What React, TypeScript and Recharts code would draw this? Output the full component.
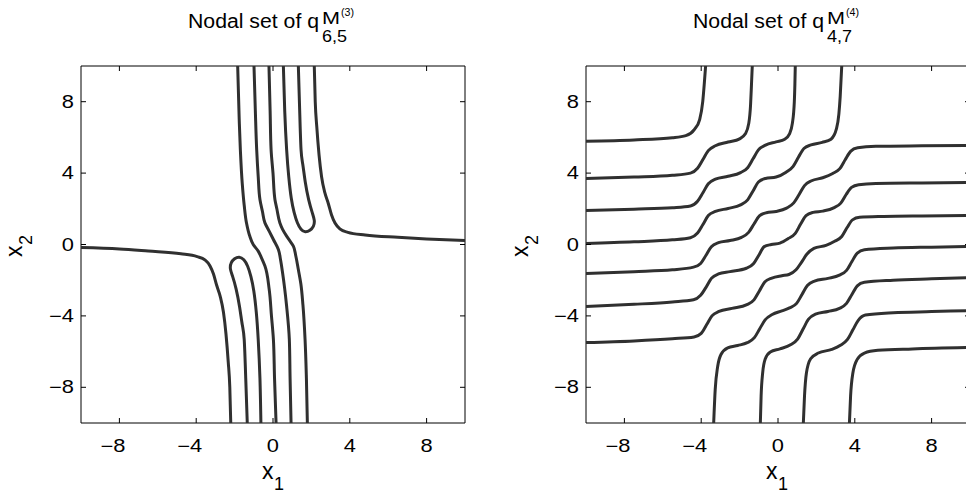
import React from 'react'
import { LineChart, Line, XAxis, YAxis, ReferenceArea } from 'recharts'

type P = [number, number]

const AXIS_TICKS = [-8, -4, 0, 4, 8]
const TICK_LABELS: Record<number, string> = { '-8': '−8', '-4': '−4', 0: '0', 4: '4', 8: '8' }

// ---- left panel: nodal set of q^{M(3)}_{6,5} ----
const hypUpper: P[] = [[2.15,10],[2.2,8],[2.28,6.6],[2.4,5],[2.53,3.8],[2.7,2.9],[2.88,2.3],[3.05,1.65],[3.23,1.2],[3.5,0.86],[3.9,0.68],[4.8,0.53],[6.5,0.4],[8,0.31],[10,0.22]]
const hypLower: P[] = [[-10,-0.17],[-8,-0.25],[-6.5,-0.37],[-4.8,-0.52],[-3.95,-0.68],[-3.55,-0.86],[-3.28,-1.2],[-3.1,-1.65],[-2.93,-2.3],[-2.75,-2.9],[-2.58,-3.8],[-2.45,-5],[-2.33,-6.6],[-2.25,-8],[-2.2,-10]]
const mid1: P[] = [[0.16,-10],[0.08,-7.5],[0.02,-5.3],[-0.08,-4],[-0.2,-2.5],[-0.42,-1.21],[-0.6,-0.75],[-0.77,-0.37],[-1.03,0],[-1.22,0.5],[-1.38,1.2],[-1.5,2.2],[-1.6,3.4],[-1.7,5.3],[-1.76,7],[-1.84,10]]
const mid2: P[] = [[0.94,-10],[0.89,-7.5],[0.85,-5.3],[0.71,-3.46],[0.6,-2.4],[0.5,-1.6],[0.4,-0.9],[0.28,-0.28],[0.02,0.28],[-0.2,0.75],[-0.42,1.21],[-0.55,1.85],[-0.68,2.52],[-0.77,3.8],[-0.85,5.32],[-0.92,7.5],[-0.99,10]]
const mid3: P[] = [[1.79,-10],[1.74,-7.5],[1.67,-5.32],[1.56,-3.4],[1.45,-2.2],[1.32,-1.4],[1.18,-0.6],[1.06,-0.09],[0.88,0.2],[0.71,0.47],[0.5,0.85],[0.36,1.21],[0.2,2],[0.1,2.52],[0,4],[-0.1,5.32],[-0.15,7.5],[-0.21,10]]
const loopTop: P[] = [[0.54,10],[0.61,7.5],[0.71,5.32],[0.82,3.8],[0.95,2.6],[1.1,1.8],[1.27,1.22],[1.46,0.86],[1.68,0.72],[1.92,0.8],[2.1,1.02],[2.15,1.35],[2.04,1.8],[1.86,2.5],[1.68,3.5],[1.55,4.5],[1.46,5.32],[1.39,7.5],[1.32,10]]
const loopBottom: P[] = [[-0.63,-10],[-0.68,-7.5],[-0.77,-5.32],[-0.87,-3.8],[-1,-2.6],[-1.15,-1.8],[-1.32,-1.22],[-1.52,-0.86],[-1.76,-0.71],[-2,-0.8],[-2.17,-1.02],[-2.22,-1.35],[-2.1,-1.8],[-1.92,-2.5],[-1.74,-3.5],[-1.6,-4.5],[-1.5,-5.32],[-1.42,-7.5],[-1.34,-10]]

// ---- right panel: nodal set of q^{M(4)}_{4,7} ----
const stair1: P[] = [[-10,5.79],[-7.5,5.86],[-5.5,5.98],[-4.8,6.1],[-4.35,6.45],[-4.08,7],[-3.92,8],[-3.84,9],[-3.77,10]]
const stair2: P[] = [[-10,3.7],[-7.5,3.78],[-5.5,3.88],[-4.56,4],[-4.19,4.27],[-3.91,4.76],[-3.63,5.26],[-3.26,5.53],[-2.6,5.74],[-2,5.92],[-1.7,6.2],[-1.52,6.8],[-1.43,7.8],[-1.38,9],[-1.34,10]]
const stair3: P[] = [[-10,1.9],[-7.5,1.98],[-5.5,2.06],[-4.56,2.16],[-4.19,2.42],[-3.91,2.9],[-3.63,3.4],[-3.26,3.66],[-2.6,3.82],[-1.95,4.03],[-1.58,4.3],[-1.3,4.8],[-1.02,5.3],[-0.65,5.57],[-0.1,5.75],[0.35,5.9],[0.6,6.2],[0.75,6.8],[0.85,8],[0.88,9],[0.9,10]]
const stair4: P[] = [[-10,0.06],[-7.5,0.15],[-5.5,0.26],[-4.56,0.38],[-4.19,0.64],[-3.91,1.12],[-3.63,1.62],[-3.26,1.85],[-2.6,2.02],[-1.95,2.22],[-1.58,2.5],[-1.3,3],[-1.02,3.5],[-0.65,3.7],[-0.1,3.78],[0.42,4.05],[0.79,4.38],[1.07,4.9],[1.35,5.38],[1.72,5.58],[2.3,5.72],[2.76,5.9],[3.05,6.5],[3.17,7.3],[3.24,8.3],[3.32,10]]
const stair5: P[] = [[-10,-1.62],[-7.5,-1.52],[-5.5,-1.42],[-4.4,-1.27],[-4.03,-1.06],[-3.75,-0.6],[-3.47,-0.12],[-3.1,0.1],[-2.5,0.22],[-1.9,0.4],[-1.53,0.68],[-1.25,1.15],[-0.97,1.6],[-0.6,1.78],[-0.1,1.85],[0.45,2.04],[0.82,2.33],[1.1,2.8],[1.38,3.3],[1.75,3.57],[2.33,3.74],[2.85,3.98],[3.22,4.25],[3.5,4.75],[3.78,5.22],[4.15,5.42],[5.1,5.5],[7.5,5.53],[10,5.55]]
const stair6: P[] = [[-10,-3.47],[-7.5,-3.35],[-5.5,-3.22],[-4.4,-3.1],[-4.03,-2.85],[-3.75,-2.4],[-3.47,-1.9],[-3.1,-1.65],[-2.5,-1.52],[-1.65,-1.33],[-1.28,-1.08],[-1,-0.6],[-0.72,-0.12],[-0.35,0],[0.1,0.08],[0.53,0.33],[0.9,0.62],[1.18,1.15],[1.46,1.62],[1.83,1.8],[2.33,1.87],[2.9,2.05],[3.27,2.32],[3.55,2.8],[3.83,3.2],[4.2,3.35],[5.1,3.42],[7.5,3.45],[10,3.47]]
const stair7: P[] = [[-10,-5.49],[-7.5,-5.4],[-5.5,-5.28],[-4.37,-5.18],[-4,-4.98],[-3.72,-4.5],[-3.44,-4],[-3.07,-3.75],[-2.4,-3.58],[-1.62,-3.37],[-1.25,-3.1],[-0.97,-2.6],[-0.69,-2.1],[-0.32,-1.88],[0.2,-1.75],[0.57,-1.68],[0.94,-1.42],[1.22,-1],[1.5,-0.55],[1.87,-0.22],[2.5,-0.05],[2.95,0.18],[3.32,0.45],[3.6,0.95],[3.88,1.38],[4.25,1.52],[5.5,1.57],[7.5,1.6],[10,1.62]]
const rise1: P[] = [[-3.35,-10],[-3.27,-8.12],[-3.14,-6.82],[-2.97,-6.16],[-2.62,-5.79],[-2.1,-5.66],[-1.6,-5.5],[-1.23,-5.22],[-0.95,-4.72],[-0.67,-4.22],[-0.3,-3.92],[0.2,-3.72],[0.6,-3.55],[0.97,-3.3],[1.25,-2.8],[1.53,-2.3],[1.9,-2.05],[2.6,-1.9],[3.2,-1.72],[3.57,-1.45],[3.85,-0.95],[4.13,-0.48],[4.5,-0.3],[6,-0.2],[8,-0.15],[10,-0.11]]
const rise2: P[] = [[-0.92,-10],[-0.88,-8.5],[-0.8,-7.2],[-0.66,-6.4],[-0.4,-6.02],[0.1,-5.85],[0.65,-5.62],[1.02,-5.3],[1.3,-4.75],[1.58,-4.2],[1.95,-3.9],[2.6,-3.75],[3.2,-3.58],[3.57,-3.3],[3.85,-2.8],[4.13,-2.32],[4.5,-2.12],[6,-2],[8,-1.92],[10,-1.85]]
const rise3: P[] = [[1.32,-10],[1.38,-8.5],[1.48,-7.2],[1.7,-6.4],[2.1,-6.08],[2.8,-5.88],[3.25,-5.65],[3.62,-5.32],[3.9,-4.78],[4.18,-4.25],[4.55,-3.95],[6,-3.82],[8,-3.76],[10,-3.7]]
const rise4: P[] = [[3.72,-10],[3.78,-8.5],[3.9,-7.2],[4.12,-6.45],[4.5,-6.08],[5.2,-5.93],[7,-5.85],[10,-5.77]]

const LINE = '#303030'
const FONT = '"Liberation Sans", Arial, Helvetica, sans-serif'
const PLOT_TOP = 66
const PLOT_BOTTOM = 423
const Y_AXIS_W = 40
const X_AXIS_H = 30

const toRows = (pts: P[]) => pts.map(([x, y]) => ({ x, y }))

const xTick = (props: any) => {
  const { x, payload } = props
  return (
    <g>
      <line x1={x} x2={x} y1={PLOT_BOTTOM} y2={PLOT_BOTTOM - 5} stroke="#000" />
      <line x1={x} x2={x} y1={PLOT_TOP} y2={PLOT_TOP + 5} stroke="#000" />
      <text transform={`translate(${x + 6},452) scale(1.25,1)`} textAnchor="end" fontSize={17.5} fontFamily={FONT} fill="#000">
        {TICK_LABELS[payload.value]}
      </text>
    </g>
  )
}

const makeYTick = (left: number, right: number) => (props: any) => {
  const { y, payload } = props
  return (
    <g>
      <line x1={left} x2={left + 5} y1={y} y2={y} stroke="#000" />
      <line x1={right} x2={right - 5} y1={y} y2={y} stroke="#000" />
      <text transform={`translate(${left - 7},${y + 6}) scale(1.25,1)`} textAnchor="end" fontSize={17.5} fontFamily={FONT} fill="#000">
        {TICK_LABELS[payload.value]}
      </text>
    </g>
  )
}

function Panel({ curves, plotLeft, width }: {
  curves: { pts: P[]; type: any }[]
  plotLeft: number
  width: number
}) {
  const plotRight = width - 18
  return (
    <LineChart
      width={width}
      height={494}
      margin={{ top: PLOT_TOP, right: 18, bottom: 494 - PLOT_BOTTOM - X_AXIS_H, left: plotLeft - Y_AXIS_W }}
    >
      <XAxis
        type="number"
        dataKey="x"
        domain={[-10, 10]}
        ticks={AXIS_TICKS}
        interval={0}
        allowDataOverflow
        height={X_AXIS_H}
        axisLine={false}
        tickLine={false}
        tick={xTick}
      />
      <YAxis
        type="number"
        dataKey="y"
        domain={[-10, 10]}
        ticks={AXIS_TICKS}
        interval={0}
        allowDataOverflow
        width={Y_AXIS_W}
        axisLine={false}
        tickLine={false}
        tick={makeYTick(plotLeft, plotRight)}
      />
      {curves.map((c, i) => (
        <Line
          key={i}
          data={toRows(c.pts)}
          dataKey="y"
          type={c.type}
          stroke={LINE}
          strokeWidth={3}
          dot={false}
          activeDot={false}
          isAnimationActive={false}
        />
      ))}
      <ReferenceArea x1={-10} x2={10} y1={-10} y2={10} fill="none" stroke="#000" strokeWidth={1} ifOverflow="visible" />
    </LineChart>
  )
}

const leftCurves = [
  { pts: hypUpper, type: 'monotoneX' },
  { pts: hypLower, type: 'monotoneX' },
  { pts: mid1, type: 'monotoneY' },
  { pts: mid2, type: 'monotoneY' },
  { pts: mid3, type: 'monotoneY' },
  { pts: loopTop, type: 'natural' },
  { pts: loopBottom, type: 'natural' },
]

const rightCurves = [stair1, stair2, stair3, stair4, stair5, stair6, stair7, rise1, rise2, rise3, rise4]
  .map(pts => ({ pts, type: 'monotoneX' }))

function Title({ x, sup, sub }: { x: number; sup: string; sub: string }) {
  return (
    <g fontFamily={FONT} fill="#000">
      <text x={x} y={28} fontSize={19.5} textLength={131} lengthAdjust="spacingAndGlyphs">Nodal set of q</text>
      <text x={x + 134} y={24} fontSize={16} textLength={18} lengthAdjust="spacingAndGlyphs">M</text>
      <text x={x + 153} y={16} fontSize={11} textLength={13} lengthAdjust="spacingAndGlyphs">{sup}</text>
      <text x={x + 134} y={41.5} fontSize={16} textLength={25} lengthAdjust="spacingAndGlyphs">{sub}</text>
    </g>
  )
}

function XLabel({ x }: { x: number }) {
  return (
    <g fontFamily={FONT} fill="#000">
      <text x={x} y={479} fontSize={23}>x</text>
      <text x={x + 12} y={490} fontSize={18}>1</text>
    </g>
  )
}

function YLabel({ x }: { x: number }) {
  return (
    <g fontFamily={FONT} fill="#000" transform={`translate(${x},257) rotate(-90)`}>
      <text x={0} y={0} fontSize={23}>x</text>
      <text x={12} y={10} fontSize={18}>2</text>
    </g>
  )
}

export default function App() {
  return (
    <div style={{ position: 'absolute', left: 0, top: 0, width: 966, height: 494, overflow: 'hidden', background: '#fff' }}>
      <div style={{ position: 'absolute', left: 0, top: 0 }}>
        <Panel curves={leftCurves} plotLeft={81} width={483} />
      </div>
      <div style={{ position: 'absolute', left: 483, top: 0 }}>
        <Panel curves={rightCurves} plotLeft={103} width={505} />
      </div>
      <svg width={966} height={494} style={{ position: 'absolute', left: 0, top: 0, pointerEvents: 'none' }}>
        <Title x={188} sup="(3)" sub="6,5" />
        <Title x={693} sup="(4)" sub="4,7" />
        <XLabel x={262} />
        <XLabel x={766} />
        <YLabel x={22} />
        <YLabel x={528} />
      </svg>
    </div>
  )
}
